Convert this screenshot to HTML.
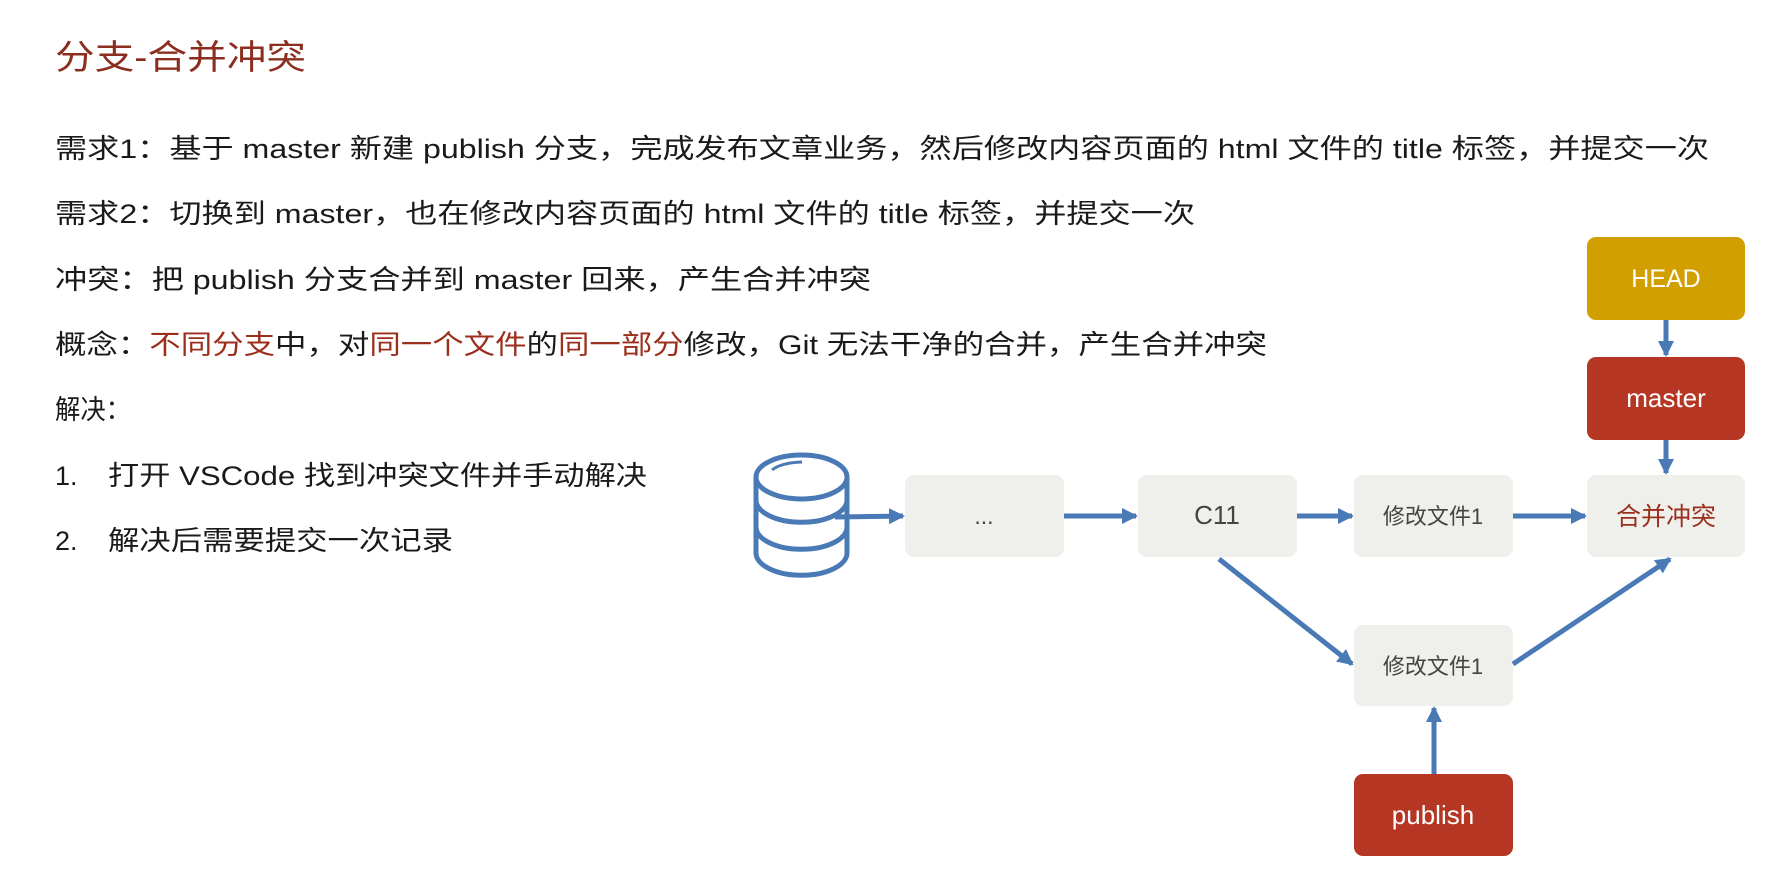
<!DOCTYPE html>
<html><head><meta charset="utf-8"><style>
html,body{margin:0;padding:0;background:#fff;width:1790px;height:882px;overflow:hidden}
svg{display:block}
text{font-family:"Liberation Sans","Noto Sans CJK SC",sans-serif}
</style></head><body>
<svg width="1790" height="882" viewBox="0 0 1790 882" xmlns="http://www.w3.org/2000/svg">
<defs><marker id="a" markerWidth="10" markerHeight="10" refX="8" refY="5" orient="auto" markerUnits="userSpaceOnUse" viewBox="0 0 10 10"><path d="M0,0 L10,5 L0,10 z" fill="#4a7ab5"/></marker>
<marker id="b" markerWidth="16" markerHeight="16" refX="14" refY="8" orient="auto" markerUnits="userSpaceOnUse" viewBox="0 0 16 16"><path d="M0,0 L16,8 L0,16 z" fill="#4a7ab5"/></marker></defs>
<text x="55" y="69" font-size="34" fill="#8b2e1f" textLength="251" lengthAdjust="spacingAndGlyphs">分支-合并冲突</text>
<g font-size="27" fill="#1a1a1a">
<text x="55" y="158" textLength="1654" lengthAdjust="spacingAndGlyphs">需求1：基于 master 新建 publish 分支，完成发布文章业务，然后修改内容页面的 html 文件的 title 标签，并提交一次</text>
<text x="55" y="223" textLength="1140" lengthAdjust="spacingAndGlyphs">需求2：切换到 master，也在修改内容页面的 html 文件的 title 标签，并提交一次</text>
<text x="55" y="289" textLength="816" lengthAdjust="spacingAndGlyphs">冲突：把 publish 分支合并到 master 回来，产生合并冲突</text>
<text x="55" y="354" textLength="1212" lengthAdjust="spacingAndGlyphs">概念：<tspan fill="#9b2f1c">不同分支</tspan>中，对<tspan fill="#9b2f1c">同一个文件</tspan>的<tspan fill="#9b2f1c">同一部分</tspan>修改，Git 无法干净的合并，产生合并冲突</text>
<text x="55" y="419" textLength="76" lengthAdjust="spacingAndGlyphs">解决：</text>
<text x="55" y="485">1.</text>
<text x="108" y="485" textLength="539" lengthAdjust="spacingAndGlyphs">打开 VSCode 找到冲突文件并手动解决</text>
<text x="55" y="550">2.</text>
<text x="108" y="550" textLength="345" lengthAdjust="spacingAndGlyphs">解决后需要提交一次记录</text>
</g>
<!-- database -->
<g fill="none" stroke="#4a7ab5" stroke-width="5">
<path d="M756,477 L756,553 A45,22 0 0 0 847,553 L847,477"/>
<ellipse cx="801.5" cy="477" rx="45.5" ry="22"/>
<path d="M756,500 A45,22 0 0 0 847,500"/>
<path d="M756,527 A45,22 0 0 0 847,527"/>
<path d="M772,470 A35,14 0 0 1 802,462" stroke-width="3"/>
</g>
<!-- nodes -->
<g fill="#efefeb">
<rect x="905" y="475" width="159" height="82" rx="9"/>
<rect x="1138" y="475" width="159" height="82" rx="9"/>
<rect x="1354" y="475" width="159" height="82" rx="9"/>
<rect x="1587" y="475" width="158" height="82" rx="9"/>
<rect x="1354" y="625" width="159" height="81" rx="9"/>
</g>
<rect x="1587" y="237" width="158" height="83" rx="9" fill="#d19f00"/>
<rect x="1587" y="357" width="158" height="83" rx="9" fill="#b63624"/>
<rect x="1354" y="774" width="159" height="82" rx="9" fill="#b63624"/>
<g font-size="23" text-anchor="middle" fill="#444">
<text x="984" y="524">...</text>
<text x="1217" y="524" font-size="26">C11</text>
<text x="1433" y="524" font-size="22">修改文件1</text>
<text x="1433" y="674" font-size="22">修改文件1</text>
<text x="1666" y="525" font-size="25" fill="#9b2f1c">合并冲突</text>
<text x="1666" y="287" font-size="25" fill="#fff">HEAD</text>
<text x="1666" y="407" font-size="26" fill="#fff">master</text>
<text x="1433" y="824" font-size="26" fill="#fff">publish</text>
</g>
<!-- arrows -->
<g stroke="#4a7ab5" stroke-width="5" fill="none" marker-end="url(#b)">
<line x1="835" y1="517" x2="903" y2="516"/>
<line x1="1064" y1="516" x2="1136" y2="516"/>
<line x1="1297" y1="516" x2="1352" y2="516"/>
<line x1="1513" y1="516" x2="1585" y2="516"/>
<line x1="1666" y1="320" x2="1666" y2="355"/>
<line x1="1666" y1="440" x2="1666" y2="473"/>
<line x1="1219" y1="559" x2="1352" y2="664"/>
<line x1="1513" y1="664" x2="1670" y2="559"/>
<line x1="1434" y1="774" x2="1434" y2="708"/>
</g>
</svg>
</body></html>
